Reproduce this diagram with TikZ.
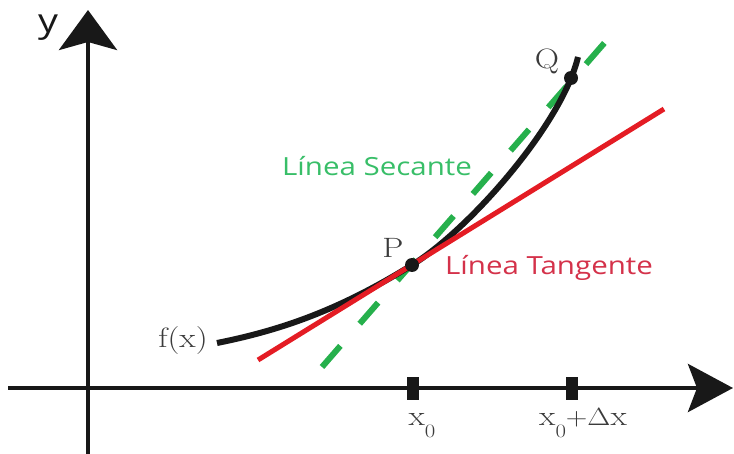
\documentclass[tikz,border=0pt]{standalone}
\usepackage{fontspec}
\setsansfont{Open Sans}
\usepackage{graphicx}
\usepackage{tikz}
\usetikzlibrary{arrows.meta}
\definecolor{secgreen}{RGB}{38,176,76}
\definecolor{tanred}{RGB}{228,28,36}
\definecolor{labgreen}{RGB}{56,190,104}
\definecolor{labred}{RGB}{212,50,74}
\definecolor{ink}{RGB}{24,24,24}
\newcommand{\widetext}[1]{\scalebox{1.2}[1]{#1}}
\newcommand{\lowzero}{\raisebox{-12pt}{\fontsize{19}{20}\selectfont 0}}

\begin{document}
\begin{tikzpicture}[x=1pt,y=-1pt]
  \useasboundingbox (0,0) rectangle (734,454);
  % axes
  \coordinate (ybot) at (88,454);
  \coordinate (ytop) at (88,10);
  \coordinate (xleft) at (8,388);
  \coordinate (xright) at (733,388);
  \draw[-{Stealth[length=40pt,width=58pt,inset=8pt]},line width=4.5pt,color=ink] (ybot) -- (ytop);
  \draw[-{Stealth[length=45pt,width=48pt,inset=9pt]},line width=4.5pt,color=ink] (xleft) -- (xright);
  \node[font=\sffamily\fontsize{33}{40}\selectfont,color=ink] (ylab) at (48,28) {\widetext{y}};
  \foreach \x in {413,572} {
    \fill[ink] (\x-6,377) rectangle (\x+6,400);
  }
  \node[anchor=base,font=\fontsize{28}{32}\selectfont,color=ink!85] (xalab) at (422,425) {\widetext{x\lowzero}};
  \node[anchor=base,font=\fontsize{28}{32}\selectfont,color=ink!85] (xblab) at (583,425) {\widetext{x\lowzero$+\Delta$x}};

  % secant, curve, tangent
  \coordinate (secA) at (322,367);
  \coordinate (secB) at (607,40);
  \draw[line width=6pt,color=secgreen,dash pattern=on 28pt off 29.4pt] (secA) -- (secB);
  \coordinate (P) at (412,265);
  \coordinate (Q) at (571,78);
  \coordinate (fA) at (217,343);
  \coordinate (fE) at (578,57);
  \draw[line width=6pt,color=ink] (fA) .. controls (282,330) and (340,309.6) .. (P)
    .. controls (470,229) and (562,124) .. (fE);
  \coordinate (tanA) at (258,360);
  \coordinate (tanB) at (664,109);
  \draw[line width=5pt,color=tanred] (tanA) -- (tanB);

  % points
  \fill[ink] (P) circle (7pt);
  \fill[ink] (Q) circle (7pt);
  \node[font=\fontsize{28}{32}\selectfont,color=ink!85] (Plab) at (393,248) {\widetext{P}};
  \node[font=\fontsize{28}{32}\selectfont,color=ink!85] (Qlab) at (547,61) {\widetext{Q}};
  \node[font=\fontsize{28}{32}\selectfont,color=ink!85] (flab) at (183,341) {\widetext{f(x)}};

  % labels
  \node[font=\sffamily\fontsize{25}{30}\selectfont,color=labgreen] (seclab) at (377,166) {\scalebox{1.18}[1]{Línea Secante}};
  \node[font=\sffamily\fontsize{25}{30}\selectfont,color=labred] (tanlab) at (549,268) {\scalebox{1.18}[1]{Línea Tangente}};
\end{tikzpicture}
\end{document}
